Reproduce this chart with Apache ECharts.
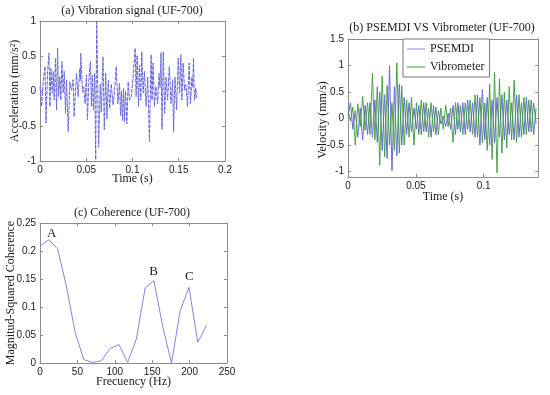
<!DOCTYPE html>
<html><head><meta charset="utf-8">
<script src="https://cdn.jsdelivr.net/npm/echarts@6/dist/echarts.min.js"></script>
<style>html,body{margin:0;padding:0;background:#fff}#c{width:550px;height:395px}</style>
</head><body><div id="c"></div>
<script>
// ---------- (a) Vibration signal ----------
const timeA = [0,0.0018,0.0036,0.0054,0.0065,0.0082,0.0097,0.0108,0.0118,0.0133,
0.0143,0.0154,0.0168,0.0179,0.0190,0.0201,0.0215,0.0226,0.0237,0.0251,
0.0262,0.0276,0.0287,0.0305,0.0323,0.0341,0.0358,0.0369,0.0394,0.0412,
0.0430,0.0436,0.0441,0.0459,0.0473,0.0487,0.0502,0.0513,0.0530,0.0545,
0.0556,0.0566,0.0577,0.0591,0.0602,0.0613,0.0634,0.0652,0.0663,0.0681,
0.0695,0.0710,0.0724,0.0738,0.0753,0.0771,0.0789,0.0806,0.0824,0.0842,
0.0860,0.0871,0.0882,0.0893,0.0903,0.0914,0.0925,0.0939,0.0953,0.0968,
0.0986,0.1004,0.1029,0.1039,0.1050,0.1065,0.1075,0.1090,0.1100,0.1115,
0.1129,0.1147,0.1165,0.1183,0.1201,0.1211,0.1222,0.1237,0.1254,0.1272,
0.1287,0.1297,0.1308,0.1319,0.1333,0.1348,0.1362,0.1380,0.1398,0.1416,
0.1434,0.1444,0.1459,0.1477,0.1495,0.1509,0.1523,0.1534,0.1548,0.1563,
0.1577,0.1595,0.1613,0.1627,0.1642,0.1652,0.1659,0.1670,0.1685,0.1692];
const accA = [0.06,-0.22,0.16,0.35,-0.46,0.28,0.54,-0.22,0.32,-0.03,
0.28,-0.13,0.47,-0.27,0.61,-0.08,0.2,-0.13,0.42,-0.03,
0.28,-0.32,0.16,-0.58,0.13,0.01,0.16,-0.37,0.25,-0.08,
0.32,0.15,0.54,-0.01,0.06,-0.18,0.23,-0.41,0.2,0.42,
-0.22,0.23,-0.27,0.25,-0.98,0.99,-0.8,0.1,-0.3,0.49,
-0.55,0.25,-0.4,0.15,-0.25,0.1,-0.2,0.0,0.35,-0.18,
0.11,-0.35,0.0,-0.42,0.04,-0.44,0.0,-0.47,0.13,-0.13,
-0.08,0.16,0.61,-0.08,0.51,-0.22,0.37,-0.13,0.56,-0.03,
0.28,-0.22,0.2,-0.72,0.52,-0.13,0.4,-0.22,0.06,-0.18,
0.25,0.05,0.55,-0.55,0.56,-0.32,0.2,-0.13,0.35,-0.18,
0.16,-0.58,0.2,-0.27,0.47,-0.03,0.52,-0.13,0.4,0.01,
0.09,-0.22,0.4,-0.18,0.2,0.05,0.47,-0.13,0.04,-0.1];
const ticksAx = [0,0.05,0.1,0.15,0.2];
const ticksAy = [-1,-0.5,0,0.5,1];

// ---------- (b) PSEMDI vs Vibrometer ----------
const sampleStepB = 0.0018;
const psemdi = [0.05,0.3,-0.2,0.15,-0.35,0.2,-0.4,0.25,-0.3,0.3,
-0.35,0.35,-0.45,0.5,-0.6,0.45,-0.75,1.0,-0.98,0.6,
-0.7,0.65,-0.5,0.4,-0.3,0.3,-0.25,0.2,-0.2,0.25,
-0.3,0.3,-0.25,0.2,-0.35,0.25,-0.3,0.15,-0.1,0.05,
-0.15,0.1,-0.2,0.25,-0.3,0.3,-0.25,0.3,-0.3,0.35,
-0.25,0.3,-0.35,0.45,-0.5,0.55,-0.4,0.4,-0.5,0.35,
-0.45,0.4,-0.35,0.45,-0.4,0.35,-0.3,0.3,-0.4,0.45,
-0.35,0.3,-0.3,0.4,-0.25,0.35,-0.3,0.2];
const vibrometer = [0.17,-0.05,0.22,-0.5,0.28,-0.15,0.42,-0.22,0.3,-0.3,
0.85,-0.4,0.6,-0.88,0.8,-0.72,0.62,-0.5,0.3,-0.6,
1.05,-0.65,0.62,-0.5,0.35,-0.35,0.4,-0.5,0.3,-0.3,
0.35,-0.25,0.3,-0.35,0.3,-0.25,0.22,-0.3,0.2,-0.2,
0.25,-0.15,0.2,-0.45,0.3,-0.2,0.25,-0.3,0.3,-0.2,
0.35,-0.3,0.45,-0.35,0.4,-0.45,0.3,-0.6,0.65,-0.77,
0.87,-1.02,0.75,-0.65,0.5,-0.55,0.6,-0.4,0.72,-0.45,
0.45,-0.35,0.4,-0.3,0.35,-0.25,0.3,-0.1];
const ticksBx = [0,0.05,0.1];
const ticksBy = [-1,-0.5,0,0.5,1,1.5];

// ---------- (c) Coherence ----------
const freqC = [0,11.7,23.4,35.2,46.9,58.6,70.3,82.0,93.8,105.5,117.2,128.9,140.6,152.3,164.1,175.8,187.5,199.2,210.9,222.7];
const cohC = [0.209,0.220,0.204,0.138,0.055,0.006,0.001,0.004,0.026,0.033,0.001,0.043,0.134,0.147,0.065,0.0,0.094,0.135,0.037,0.067];
const ticksCx = [0,50,100,150,200,250];
const ticksCy = [0,0.05,0.1,0.15,0.2,0.25];
const peakLabels = ['A','B','C'];
const peakFreq = [15.6,152,199.6];
const peakVal = [0.231,0.164,0.154];

// ---------- chart ----------
const SERIF = '"Liberation Serif","Times New Roman",serif';
const SANS = '"Liberation Sans",Arial,sans-serif';
const BOX = '#8c8c8c';
const TXT = '#1a1a1a';

function xAxes(gi, min, max, ticks, name, gap) {
  const base = {gridIndex: gi, type: 'value', min: min, max: max, splitLine: {show: false},
    axisLine: {show: true, onZero: false, lineStyle: {color: BOX, width: 1}},
    axisTick: {show: true, inside: true, length: 3, customValues: ticks, lineStyle: {color: BOX}}};
  return [
    Object.assign({}, base, {position: 'bottom', name: name, nameLocation: 'middle', nameGap: gap,
      nameMoveOverlap: false,
      nameTextStyle: {fontFamily: SERIF, fontSize: 12, color: TXT},
      axisLabel: {show: true, margin: 4, customValues: ticks, fontFamily: SANS, fontSize: 10, color: TXT}}),
    Object.assign({}, base, {position: 'top', axisLabel: {show: false}})
  ];
}
function yAxes(gi, min, max, ticks, name, gap, pad) {
  const base = {gridIndex: gi, type: 'value', min: min, max: max, splitLine: {show: false},
    axisLine: {show: true, onZero: false, lineStyle: {color: BOX, width: 1}},
    axisTick: {show: true, inside: true, length: 3, customValues: ticks, lineStyle: {color: BOX}}};
  return [
    Object.assign({}, base, {position: 'left', name: name, nameLocation: 'middle', nameGap: gap,
      nameMoveOverlap: false,
      nameTextStyle: {fontFamily: SERIF, fontSize: 12, color: TXT, padding: pad || 0},
      axisLabel: {show: true, margin: 4, customValues: ticks, fontFamily: SANS, fontSize: 10, color: TXT}}),
    Object.assign({}, base, {position: 'right', axisLabel: {show: false}})
  ];
}

const dataA = timeA.map((t, i) => [t, accA[i]]);
const dataP = psemdi.map((v, i) => [i * sampleStepB, v]);
const dataV = vibrometer.map((v, i) => [i * sampleStepB, v]);
const dataC = freqC.map((f, i) => [f, cohC[i]]);

const option = {
  animation: false,
  backgroundColor: '#fff',
  title: [
    {text: '(a) Vibration signal (UF-700)', left: 132, top: 5, textAlign: 'center', padding: 0,
      textStyle: {fontFamily: SERIF, fontSize: 12, fontWeight: 'normal', color: TXT}},
    {text: '(b) PSEMDI VS Vibrometer (UF-700)', left: 442, top: 22, textAlign: 'center', padding: 0,
      textStyle: {fontFamily: SERIF, fontSize: 12, fontWeight: 'normal', color: TXT}},
    {text: '(c) Coherence (UF-700)', left: 132, top: 207, textAlign: 'center', padding: 0,
      textStyle: {fontFamily: SERIF, fontSize: 12, fontWeight: 'normal', color: TXT}}
  ],
  legend: {
    data: ['PSEMDI', 'Vibrometer'], orient: 'vertical', left: 403, top: 39,
    icon: 'rect', itemWidth: 18, itemHeight: 1,
    backgroundColor: '#fff', borderColor: '#777', borderWidth: 1,
    padding: [4, 5, 4, 4], itemGap: 6,
    textStyle: {fontFamily: SERIF, fontSize: 12, color: TXT}
  },
  grid: [
    {left: 40, top: 21, width: 185, height: 140},
    {left: 348, top: 39, width: 190, height: 138},
    {left: 40, top: 223, width: 187, height: 140}
  ],
  xAxis: [].concat(
    xAxes(0, 0, 0.2, ticksAx, 'Time (s)', 12),
    xAxes(1, 0, 0.14, ticksBx, 'Time (s)', 14),
    xAxes(2, 0, 250, ticksCx, 'Frecuency (Hz)', 13)
  ),
  yAxis: [].concat(
    yAxes(0, -1, 1, ticksAy, 'Acceleration (mm/s²)', 19),
    yAxes(1, -1.1, 1.5, ticksBy, 'Velocity (mm/s)', 19, [0, 24, 0, 0]),
    yAxes(2, 0, 0.25, ticksCy, 'Magnitud-Squared Coherence', 23)
  ),
  series: [
    {type: 'line', name: 'Vibration', xAxisIndex: 0, yAxisIndex: 0, data: dataA, showSymbol: false, symbol: 'none',
      lineStyle: {color: '#6464dc', width: 1, type: [4, 1]}},
    {type: 'line', name: 'PSEMDI', xAxisIndex: 2, yAxisIndex: 2, data: dataP, showSymbol: false, symbol: 'none',
      itemStyle: {color: '#8a8ae4'}, lineStyle: {color: '#6a6ad8', width: 1}},
    {type: 'line', name: 'Vibrometer', xAxisIndex: 2, yAxisIndex: 2, data: dataV, showSymbol: false, symbol: 'none',
      itemStyle: {color: '#3a9a3a'}, lineStyle: {color: '#3a9a3a', width: 1, opacity: 0.9}},
    {type: 'line', name: 'Coherence', xAxisIndex: 4, yAxisIndex: 4, data: dataC, showSymbol: false, symbol: 'none',
      lineStyle: {color: '#8383e4', width: 1},
      markPoint: {symbol: 'circle', symbolSize: 0, silent: true,
        label: {show: true, position: 'inside', formatter: p => p.name, fontFamily: SERIF, fontSize: 13, color: TXT},
        data: peakLabels.map((n, i) => ({name: n, coord: [peakFreq[i], peakVal[i]]}))}}
  ]
};
const chart = echarts.init(document.getElementById('c'));
chart.setOption(option);
</script>
</body></html>
